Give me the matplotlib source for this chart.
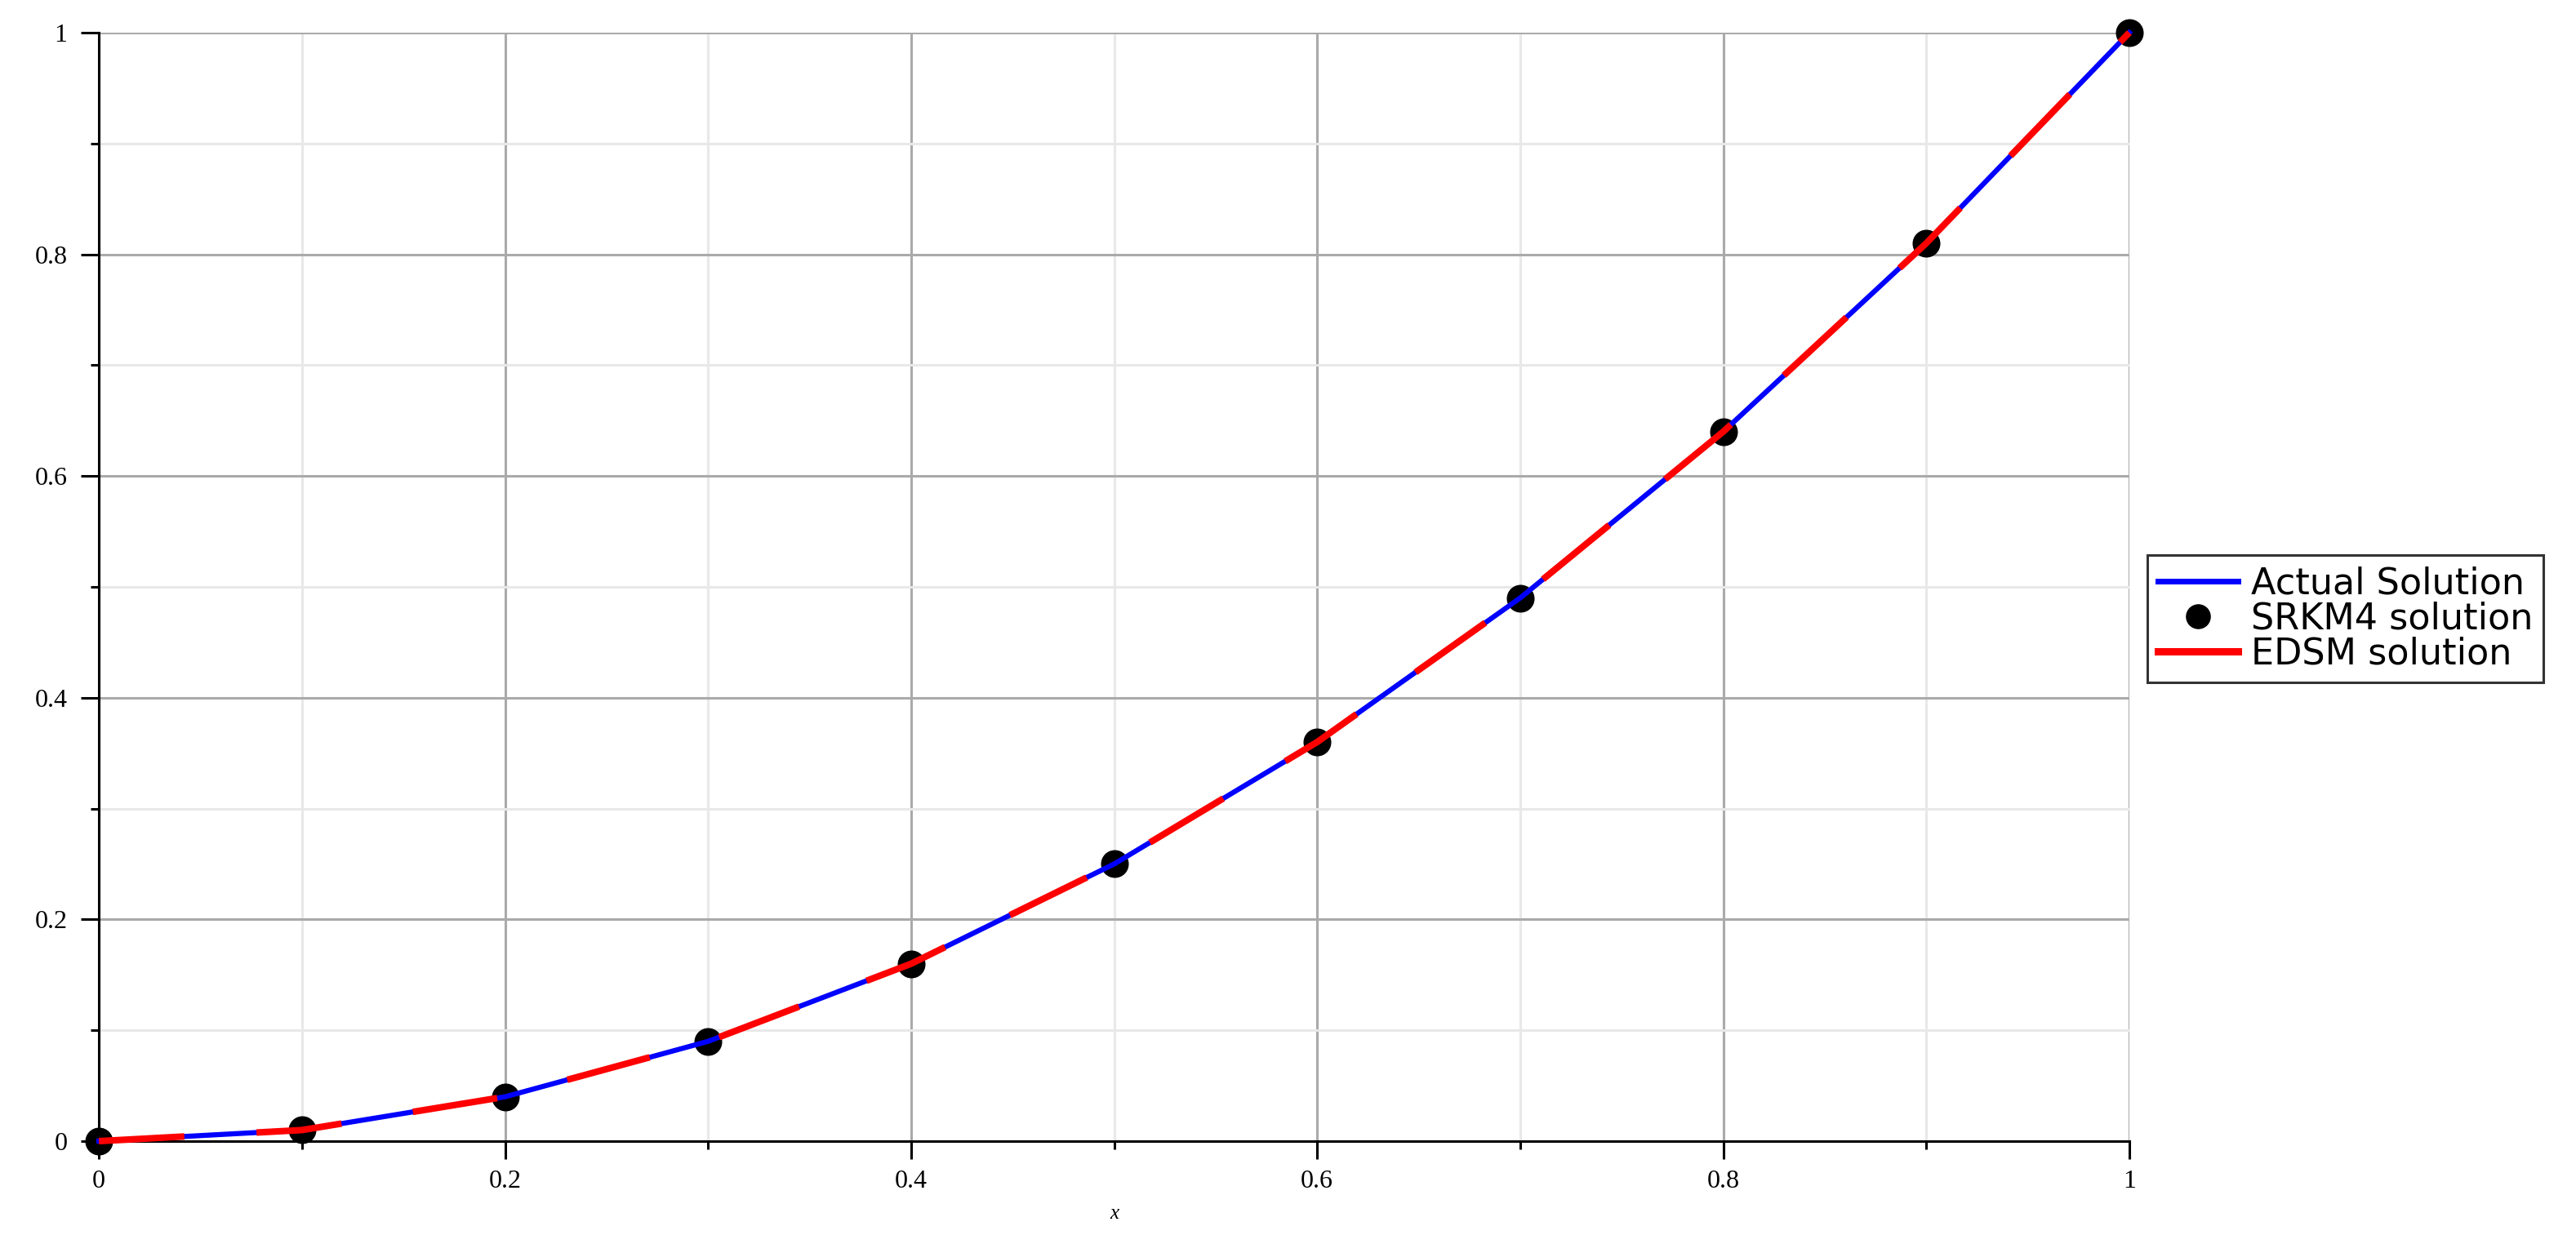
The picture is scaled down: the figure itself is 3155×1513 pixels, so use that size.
import numpy as np
import matplotlib.pyplot as plt
from matplotlib.lines import Line2D

# values (y = x^2 at the nodes)
x_nodes = [0.0, 0.1, 0.2, 0.3, 0.4, 0.5, 0.6, 0.7, 0.8, 0.9, 1.0]
actual = [0.0, 0.01, 0.04, 0.09, 0.16, 0.25, 0.36, 0.49, 0.64, 0.81, 1.0]
srkm4 = [0.0, 0.01, 0.04, 0.09, 0.16, 0.25, 0.36, 0.49, 0.64, 0.81, 1.0]
edsm = [0.0, 0.01, 0.04, 0.09, 0.16, 0.25, 0.36, 0.49, 0.64, 0.81, 1.0]

major_ticks = [0, 0.2, 0.4, 0.6, 0.8, 1.0]
minor_ticks = [0.1, 0.3, 0.5, 0.7, 0.9]
tick_labels = ["0", "0.2", "0.4", "0.6", "0.8", "1"]

fig = plt.figure(figsize=(31.55, 15.13), dpi=100)
ax = fig.add_axes([0.0384, 0.076, 0.7882, 0.8976])

ax.plot(x_nodes, srkm4, 'o', color='black', markersize=23.5, zorder=3, clip_on=False)
ax.plot(x_nodes, actual, color='blue', lw=4.5, zorder=4, clip_on=False)
ax.plot(x_nodes, edsm, color='red', lw=5.8, dashes=(13, 11), zorder=5, clip_on=False)

ax.set_xlim(0, 1)
ax.set_ylim(0, 1)
ax.set_xticks(major_ticks)
ax.set_yticks(major_ticks)
ax.set_xticks(minor_ticks, minor=True)
ax.set_yticks(minor_ticks, minor=True)
ax.set_xticklabels(tick_labels, family='Liberation Serif', fontsize=23)
ax.set_yticklabels(tick_labels, family='Liberation Serif', fontsize=23)

ax.grid(which='major', color='#aaaaaa', lw=2.2, zorder=0)
ax.grid(which='minor', color='#e8e8e8', lw=2.2, zorder=0)
ax.set_axisbelow(True)

for s in ['top', 'right']:
    ax.spines[s].set_visible(False)
for s in ['left', 'bottom']:
    ax.spines[s].set_linewidth(2.2)
    ax.spines[s].set_zorder(2)

ax.tick_params(which='major', direction='out', length=16, width=2.2)
ax.tick_params(which='minor', direction='out', length=7, width=2.2)
ax.tick_params(axis='x', which='major', pad=9)
ax.tick_params(axis='y', which='major', pad=12)

ax.set_xlabel('x', family='Liberation Serif', style='italic', fontsize=18, labelpad=10)

handles = [Line2D([], [], color='blue', lw=5),
           Line2D([], [], color='black', marker='o', ls='none', markersize=21),
           Line2D([], [], color='red', lw=6.5)]
labels = ['Actual Solution', 'SRKM4 solution', 'EDSM solution']
leg = fig.legend(handles, labels, loc='upper left', bbox_to_anchor=(0.8336, 0.5506),
                 prop={'family': 'DejaVu Sans', 'size': 32}, frameon=True, fancybox=False,
                 edgecolor='black', handlelength=2.2, handletextpad=0.35,
                 labelspacing=0.0, borderpad=0.3, borderaxespad=0)
leg.get_frame().set_linewidth(2.2)

fig.savefig('out.png', dpi=100)
